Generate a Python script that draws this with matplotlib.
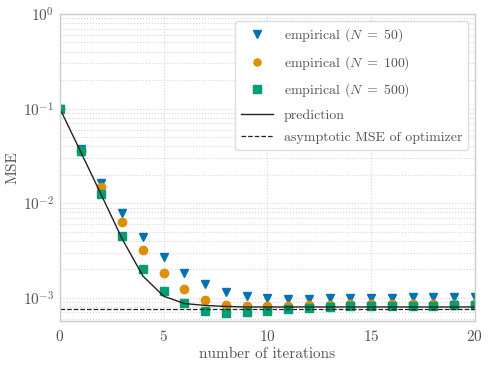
import matplotlib
matplotlib.use("Agg")
import matplotlib.pyplot as plt
import numpy as np

iterations = np.arange(0, 21)

mse_n50 = [0.1, 0.037, 0.0164, 0.0079, 0.0044, 0.00272, 0.00185, 0.0014, 0.00116, 0.00104,
           0.00100, 0.00098, 0.00098, 0.00099, 0.00099, 0.00100, 0.00100, 0.00101, 0.00102, 0.00102, 0.00103]
mse_n100 = [0.1, 0.036, 0.0148, 0.0064, 0.0032, 0.00185, 0.00123, 0.00094, 0.00083, 0.00081,
            0.00081, 0.00082, 0.00083, 0.00084, 0.00085, 0.00085, 0.00086, 0.00086, 0.00087, 0.00087, 0.00087]
mse_n500 = [0.1, 0.0357, 0.0125, 0.0045, 0.0020, 0.00119, 0.00089, 0.00073, 0.00069, 0.00070,
            0.00073, 0.00076, 0.00078, 0.00080, 0.00081, 0.00081, 0.00082, 0.00082, 0.00082, 0.00083, 0.00083]
prediction = [0.1, 0.035, 0.0122, 0.0042, 0.0017, 0.00104, 0.00087, 0.00083, 0.00081, 0.00080,
              0.00080, 0.00080, 0.00080, 0.00080, 0.00080, 0.00080, 0.00080, 0.00080, 0.00080, 0.00080, 0.00080]
asymptotic_mse = 0.00077

plt.rcParams.update({
    "font.family": "serif",
    "font.serif": ["cmr10"],
    "mathtext.fontset": "cm",
    "axes.formatter.use_mathtext": True,
    "font.size": 11,
})

fig, ax = plt.subplots(figsize=(4.91, 3.68), dpi=100)

ax.plot(iterations, mse_n50, linestyle="none", marker="v", markersize=6,
        color="#0173b2", label=r"empirical ($N\;=\;50$)")
ax.plot(iterations, mse_n100, linestyle="none", marker="o", markersize=6,
        color="#de8f05", label=r"empirical ($N\;=\;100$)")
ax.plot(iterations, mse_n500, linestyle="none", marker="s", markersize=6,
        color="#029e73", label=r"empirical ($N\;=\;500$)")
ax.plot(iterations, prediction, color="#222222", linewidth=1.0, label="prediction")
ax.axhline(asymptotic_mse, color="#222222", linestyle="--", linewidth=0.9,
           label="asymptotic MSE of optimizer")

ax.set_yscale("log")
ax.set_ylim(5.7e-4, 1)
ax.set_xlim(0, 20)
ax.set_xticks([0, 5, 10, 15, 20])
ax.set_xlabel("number of iterations", color="#555555", labelpad=2)
ax.set_ylabel("MSE", color="#555555", labelpad=3)

ax.grid(True, which="both", linestyle=":", color="#d5d5d5", linewidth=0.8)
ax.set_axisbelow(True)
ax.tick_params(which="both", length=0, colors="#555555", labelsize=11)
ax.tick_params(axis="y", pad=4)
ax.tick_params(axis="x", pad=6)
for spine in ax.spines.values():
    spine.set_color("#cccccc")
    spine.set_linewidth(1.0)

leg = ax.legend(loc="upper right", fontsize=10, frameon=True, fancybox=True,
                edgecolor="#dddddd", framealpha=1.0, markerscale=0.85,
                borderaxespad=0.5, labelspacing=0.7, handlelength=2.3)
for text in leg.get_texts():
    text.set_color("#555555")

fig.subplots_adjust(left=0.122, right=0.967, top=0.962, bottom=0.128)
fig.savefig("out.png", dpi=100, facecolor="white")
